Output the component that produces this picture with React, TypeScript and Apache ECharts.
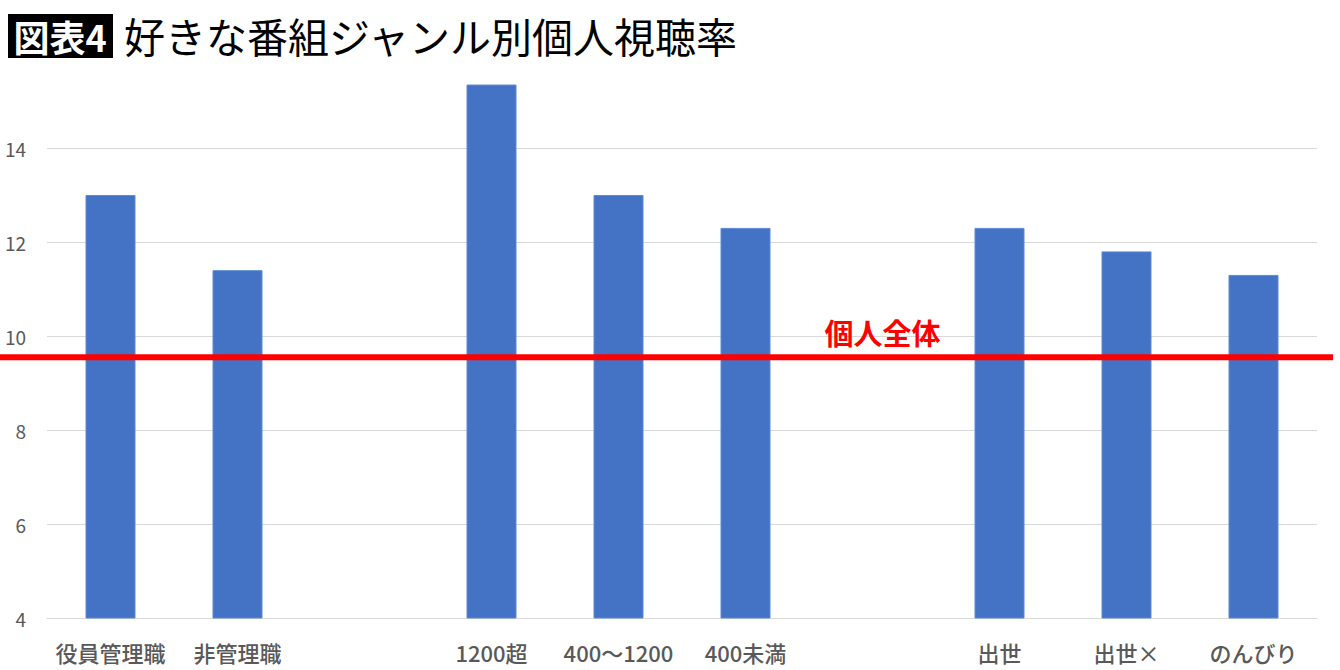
import React, { useEffect, useRef } from "react";
import * as echarts from "echarts";

const categories = ["役員管理職", "非管理職", "", "1200超", "400〜1200", "400未満", "", "出世", "出世×", "のんびり"];
const values: (number | string)[] = [13.0, 11.4, "-", 15.35, 13.0, 12.3, "-", 12.3, 11.8, 11.3];
const overallValue = 9.55;
const overallLabel = "個人全体";
const titleTag = "図表4";
const titleText = "好きな番組ジャンル別個人視聴率";
const yMin = 4;
const yMax = 16;
const yInterval = 2;

const FONT = '"Noto Sans CJK JP", "Noto Sans", sans-serif';

export default function App() {
  const ref = useRef<HTMLDivElement>(null);
  useEffect(() => {
    if (!ref.current) return;
    const chart = echarts.init(ref.current, undefined, { renderer: "svg" });
    chart.setOption({
      animation: false,
      backgroundColor: "#ffffff",
      textStyle: { fontFamily: FONT },
      grid: { left: 47, right: 23, top: 54, bottom: 52, containLabel: false },
      xAxis: {
        type: "category",
        data: categories,
        axisLine: { show: true, lineStyle: { color: "#d9d9d9", width: 1 } },
        axisTick: { show: false },
        axisLabel: {
          interval: 0,
          color: "#595959",
          fontSize: 22,
          fontWeight: 500,
          margin: 23,
          fontFamily: FONT,
        },
      },
      yAxis: {
        type: "value",
        min: yMin,
        max: yMax,
        interval: yInterval,
        axisLine: { show: false },
        axisTick: { show: false },
        axisLabel: {
          color: "#595959",
          fontSize: 19,
          margin: 21,
          showMaxLabel: false,
          fontFamily: FONT,
        },
        splitLine: { show: true, showMaxLine: false, lineStyle: { color: "#d9d9d9", width: 1 } },
      },
      series: [
        {
          type: "bar",
          data: values,
          barWidth: 50,
          itemStyle: { color: "#4472C4", borderColor: "#5b8ad6", borderWidth: 1 },
        },
      ],
    });
    const y = chart.convertToPixel({ yAxisIndex: 0 }, overallValue) as number;
    const xLabel = (chart.convertToPixel({ xAxisIndex: 0 }, 6) as number) + 10;
    chart.setOption({
      graphic: [
        { id: "tagbox", type: "rect", shape: { x: 8, y: 14, width: 105, height: 44 }, style: { fill: "#000000" } },
        {
          id: "tagtext",
          type: "text",
          x: 60,
          y: 36,
          style: {
            text: titleTag,
            fill: "#ffffff",
            font: `bold 36px ${FONT}`,
            align: "center",
            verticalAlign: "middle",
          },
        },
        {
          id: "title",
          type: "text",
          x: 124,
          y: 35,
          style: {
            text: titleText,
            fill: "#000000",
            font: `normal 41px ${FONT}`,
            align: "left",
            verticalAlign: "middle",
          },
        },
        {
          id: "overallLine",
          type: "line",
          z: 100,
          shape: { x1: 0, y1: y, x2: 1333, y2: y },
          style: { stroke: "#ff0000", lineWidth: 6 },
        },
        {
          id: "overallLabel",
          type: "text",
          z: 100,
          x: xLabel,
          y: y - 25,
          style: {
            text: overallLabel,
            fill: "#ff0000",
            font: `bold 29px ${FONT}`,
            align: "center",
            verticalAlign: "middle",
          },
        },
      ],
    });
    return () => chart.dispose();
  }, []);
  return (
    <div
      ref={ref}
      style={{ position: "absolute", left: 0, top: 0, width: 1340, height: 670 }}
    />
  );
}
